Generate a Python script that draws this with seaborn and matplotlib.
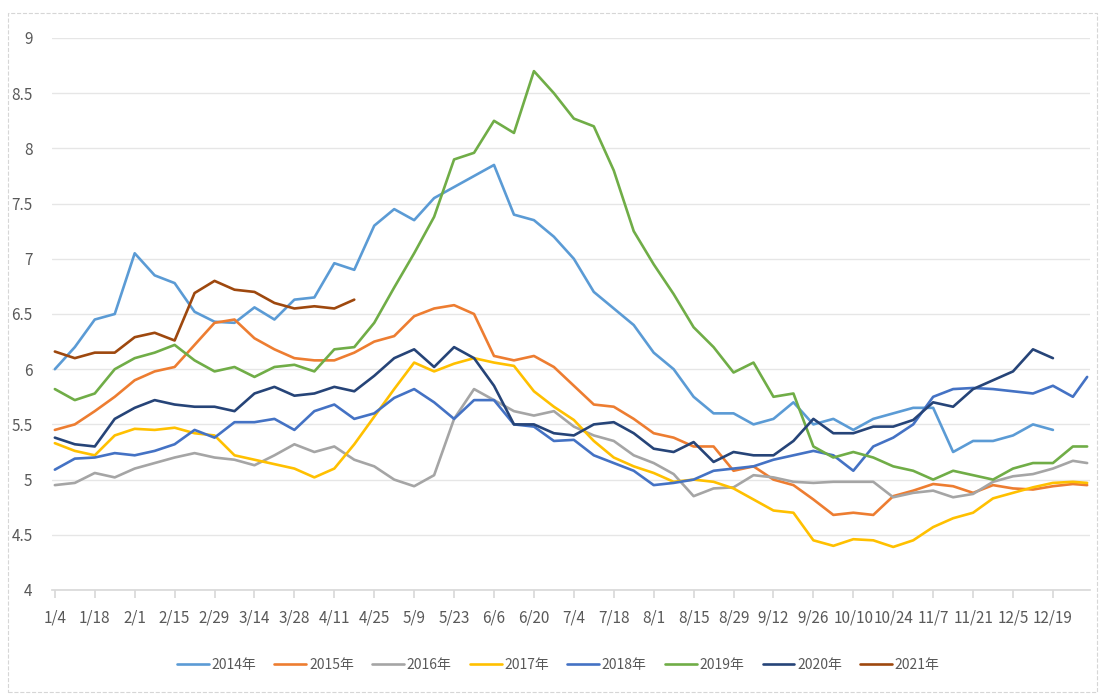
import numpy as np
import pandas as pd
import matplotlib.pyplot as plt
import seaborn as sns
from matplotlib.patches import Rectangle

nan = np.nan

# weekly sample dates (leap-year calendar) plus year end
dates = pd.date_range("2016-01-04", "2016-12-26", freq="7D").append(pd.DatetimeIndex(["2016-12-31"]))

tick_labels = ["1/4", "1/18", "2/1", "2/15", "2/29", "3/14", "3/28", "4/11", "4/25", "5/9",
               "5/23", "6/6", "6/20", "7/4", "7/18", "8/1", "8/15", "8/29", "9/12", "9/26",
               "10/10", "10/24", "11/7", "11/21", "12/5", "12/19"]

years = ["2014年", "2015年", "2016年", "2017年", "2018年", "2019年", "2020年", "2021年"]
colors = ["#5B9BD5", "#ED7D31", "#A5A5A5", "#FFC000", "#4472C4", "#70AD47", "#264478", "#9E480E"]

y2014 = [6.0, 6.2, 6.45, 6.5, 7.05, 6.85, 6.78, 6.52, 6.43, 6.42,
         6.56, 6.45, 6.63, 6.65, 6.96, 6.9, 7.3, 7.45, 7.35, 7.55,
         7.65, 7.75, 7.85, 7.4, 7.35, 7.2, 7.0, 6.7, 6.55, 6.4,
         6.15, 6.0, 5.75, 5.6, 5.6, 5.5, 5.55, 5.7, 5.5, 5.55,
         5.45, 5.55, 5.6, 5.65, 5.65, 5.25, 5.35, 5.35, 5.4, 5.5,
         5.45, nan, nan]
y2015 = [5.45, 5.5, 5.62, 5.75, 5.9, 5.98, 6.02, 6.22, 6.42, 6.45,
         6.28, 6.18, 6.1, 6.08, 6.08, 6.15, 6.25, 6.3, 6.48, 6.55,
         6.58, 6.5, 6.12, 6.08, 6.12, 6.02, 5.85, 5.68, 5.66, 5.55,
         5.42, 5.38, 5.3, 5.3, 5.08, 5.12, 5.0, 4.95, 4.82, 4.68,
         4.7, 4.68, 4.85, 4.9, 4.96, 4.94, 4.88, 4.95, 4.92, 4.91,
         4.94, 4.96, 4.95]
y2016 = [4.95, 4.97, 5.06, 5.02, 5.1, 5.15, 5.2, 5.24, 5.2, 5.18,
         5.13, 5.22, 5.32, 5.25, 5.3, 5.18, 5.12, 5.0, 4.94, 5.04,
         5.55, 5.82, 5.72, 5.62, 5.58, 5.62, 5.48, 5.4, 5.35, 5.22,
         5.15, 5.05, 4.85, 4.92, 4.93, 5.04, 5.02, 4.98, 4.97, 4.98,
         4.98, 4.98, 4.84, 4.88, 4.9, 4.84, 4.87, 4.98, 5.03, 5.05,
         5.1, 5.17, 5.15]
y2017 = [5.33, 5.26, 5.22, 5.4, 5.46, 5.45, 5.47, 5.42, 5.4, 5.22,
         5.18, 5.14, 5.1, 5.02, 5.1, 5.32, 5.57, 5.82, 6.06, 5.98,
         6.05, 6.1, 6.06, 6.03, 5.8, 5.66, 5.54, 5.35, 5.2, 5.12,
         5.06, 4.98, 5.0, 4.98, 4.92, 4.82, 4.72, 4.7, 4.45, 4.4,
         4.46, 4.45, 4.39, 4.45, 4.57, 4.65, 4.7, 4.83, 4.88, 4.93,
         4.97, 4.98, 4.97]
y2018 = [5.09, 5.19, 5.2, 5.24, 5.22, 5.26, 5.32, 5.45, 5.38, 5.52,
         5.52, 5.55, 5.45, 5.62, 5.68, 5.55, 5.6, 5.74, 5.82, 5.7,
         5.55, 5.72, 5.72, 5.5, 5.48, 5.35, 5.36, 5.22, 5.15, 5.08,
         4.95, 4.97, 5.0, 5.08, 5.1, 5.12, 5.18, 5.22, 5.26, 5.22,
         5.08, 5.3, 5.38, 5.5, 5.75, 5.82, 5.83, 5.82, 5.8, 5.78,
         5.85, 5.75, 5.93]
y2019 = [5.82, 5.72, 5.78, 6.0, 6.1, 6.15, 6.22, 6.08, 5.98, 6.02,
         5.93, 6.02, 6.04, 5.98, 6.18, 6.2, 6.42, 6.74, 7.05, 7.38,
         7.9, 7.96, 8.25, 8.14, 8.7, 8.5, 8.27, 8.2, 7.8, 7.25,
         6.95, 6.68, 6.38, 6.2, 5.97, 6.06, 5.75, 5.78, 5.3, 5.2,
         5.25, 5.2, 5.12, 5.08, 5.0, 5.08, 5.04, 5.0, 5.1, 5.15,
         5.15, 5.3, 5.3]
y2020 = [5.38, 5.32, 5.3, 5.55, 5.65, 5.72, 5.68, 5.66, 5.66, 5.62,
         5.78, 5.84, 5.76, 5.78, 5.84, 5.8, 5.94, 6.1, 6.18, 6.02,
         6.2, 6.1, 5.85, 5.5, 5.5, 5.42, 5.4, 5.5, 5.52, 5.42,
         5.28, 5.25, 5.34, 5.16, 5.25, 5.22, 5.22, 5.35, 5.55, 5.42,
         5.42, 5.48, 5.48, 5.54, 5.7, 5.66, 5.82, 5.9, 5.98, 6.18,
         6.1, nan, nan]
y2021 = [6.16, 6.1, 6.15, 6.15, 6.29, 6.33, 6.26, 6.69, 6.8, 6.72,
         6.7, 6.6, 6.55, 6.57, 6.55, 6.63] + [nan] * 37

series = [y2014, y2015, y2016, y2017, y2018, y2019, y2020, y2021]

day = (dates - dates[0]).days
frames = []
for name, vals in zip(years, series):
    frames.append(pd.DataFrame({"day": day, "value": vals, "year": name}))
df = pd.concat(frames).dropna()

sns.set_theme(style="white")
plt.rcParams["font.family"] = ["Noto Sans CJK SC", "DejaVu Sans"]

fig = plt.figure(figsize=(10.99, 6.95), dpi=100)
ax = fig.add_axes([52 / 1099, 1 - 590 / 695, (1090 - 52) / 1099, (590 - 38) / 695])

sns.lineplot(data=df, x="day", y="value", hue="year", hue_order=years,
             palette=colors, linewidth=1.9, errorbar=None, ax=ax)

ax.set_xlim(-1, 363)
ax.set_ylim(4, 9)
yt = np.arange(4, 9.01, 0.5)
ax.set_yticks(yt)
ax.set_yticklabels([f"{v:g}" for v in yt])
ax.set_xticks(np.arange(0, 351, 14))
ax.set_xticklabels(tick_labels)
ax.set_xlabel("")
ax.set_ylabel("")

ax.yaxis.grid(True, color="#e6e6e6", linewidth=1)
ax.set_axisbelow(True)
for s in ["left", "right", "top"]:
    ax.spines[s].set_visible(False)
ax.spines["bottom"].set_color("#d9d9d9")
ax.tick_params(axis="x", length=6, color="#d9d9d9", labelsize=11, labelcolor="#595959", pad=8, direction="out", bottom=True)
ax.tick_params(axis="y", length=0, labelsize=11, labelcolor="#595959", pad=14)

handles, labels = ax.get_legend_handles_labels()
ax.get_legend().remove()
fig.legend(handles, labels, loc="center", bbox_to_anchor=(0.508, 0.043), ncol=8,
           frameon=False, fontsize=10, handlelength=2.3, handletextpad=0.2,
           columnspacing=1.3, labelcolor="#595959")

fig.add_artist(Rectangle((0.007, 0.004), 0.991, 0.977, transform=fig.transFigure,
                         fill=False, edgecolor="#d6d6d6", linewidth=0.8, linestyle="--"))

fig.savefig("out.png", dpi=100)
